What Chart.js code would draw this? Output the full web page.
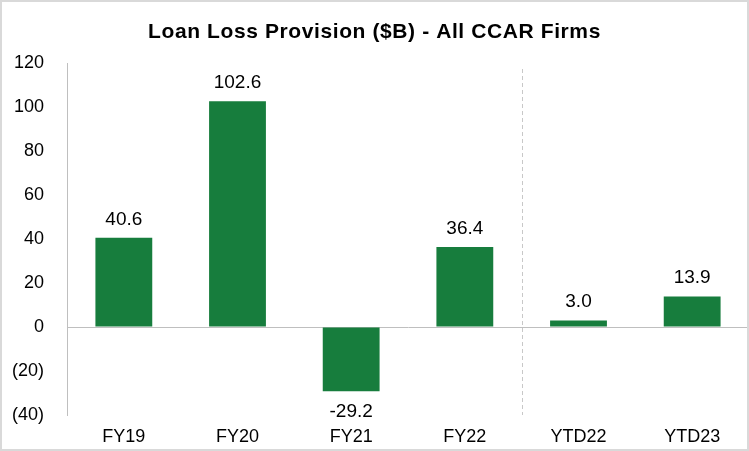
<!DOCTYPE html>
<html>
<head>
<meta charset="utf-8">
<script src="https://cdn.jsdelivr.net/npm/chart.js@4.4.0/dist/chart.umd.min.js"></script>
<style>
  html, body { margin: 0; padding: 0; background: #fff; }
  #wrap { width: 749px; height: 451px; position: relative; }
</style>
</head>
<body>
<div id="wrap"><canvas id="chart"></canvas></div>
<script>
// Data
const categories = ['FY19', 'FY20', 'FY21', 'FY22', 'YTD22', 'YTD23'];
const provisions = [40.6, 102.6, -29.2, 36.4, 3.0, 13.9];
const yTicks = [120, 100, 80, 60, 40, 20, 0, -20, -40];

const chartTitle = 'Loan Loss Provision ($B) - All CCAR Firms';
const barColor = '#177D3D';
const fontFamily = 'Arial, "Liberation Sans", sans-serif';

// Title, frame, divider and value labels
const decorPlugin = {
    id: 'decor',
    afterDraw(chart) {
        const { ctx, chartArea, scales } = chart;
        ctx.save();

        // outer frame
        ctx.strokeStyle = '#D9D9D9';
        ctx.lineWidth = 2;
        ctx.strokeRect(1, 1, chart.width - 2, chart.height - 2);

        // title
        ctx.fillStyle = '#000';
        ctx.font = 'bold 21px ' + fontFamily;
        ctx.letterSpacing = '0.6px';
        ctx.textAlign = 'center';
        ctx.textBaseline = 'alphabetic';
        ctx.fillText(chartTitle, chart.width / 2, 38);
        ctx.letterSpacing = '0px';

        // dashed divider between FY and YTD groups
        const xDiv = (scales.x.getPixelForValue(3) + scales.x.getPixelForValue(4)) / 2;
        ctx.strokeStyle = '#C8C8C8';
        ctx.lineWidth = 1;
        ctx.setLineDash([4, 3]);
        ctx.beginPath();
        ctx.moveTo(Math.round(xDiv) + 0.5, chartArea.top + 6);
        ctx.lineTo(Math.round(xDiv) + 0.5, chartArea.bottom);
        ctx.stroke();
        ctx.setLineDash([]);

        // value labels
        ctx.font = '19px ' + fontFamily;
        ctx.fillStyle = '#000';
        ctx.textBaseline = 'alphabetic';
        const meta = chart.getDatasetMeta(0);
        meta.data.forEach((bar, i) => {
            const v = provisions[i];
            const txt = v.toFixed(1);
            if (v >= 0) {
                ctx.fillText(txt, bar.x, bar.y - 13);
            } else {
                ctx.fillText(txt, bar.x, bar.y + 26);
            }
        });
        ctx.restore();
    }
};

new Chart(document.getElementById('chart'), {
    type: 'bar',
    data: {
        labels: categories,
        datasets: [{
            data: provisions,
            backgroundColor: barColor,
            borderWidth: 0,
            categoryPercentage: 1.0,
            barPercentage: 0.5
        }]
    },
    options: {
        responsive: true,
        maintainAspectRatio: false,
        animation: false,
        layout: { padding: { top: 63, right: 0, bottom: 0, left: 0 } },
        plugins: {
            legend: { display: false },
            tooltip: { enabled: false }
        },
        scales: {
            x: {
                grid: { display: false, drawTicks: false },
                border: { display: false },
                afterFit(scale) { scale.height = 36; },
                ticks: {
                    color: '#000',
                    padding: 11,
                    font: { family: fontFamily, size: 18 }
                }
            },
            y: {
                min: -40,
                max: 120,
                afterBuildTicks(scale) {
                    scale.ticks = yTicks.map(v => ({ value: v }));
                },
                afterFit(scale) { scale.width = 67; },
                border: { display: true, color: '#BFBFBF', width: 1 },
                grid: {
                    drawTicks: false,
                    color: ctx => (ctx.tick && ctx.tick.value === 0 ? '#BFBFBF' : 'rgba(0,0,0,0)'),
                    lineWidth: 1
                },
                ticks: {
                    color: '#000',
                    padding: 23,
                    font: { family: fontFamily, size: 18 },
                    callback: v => (v < 0 ? '(' + Math.abs(v) + ')' : String(v))
                }
            }
        }
    },
    plugins: [decorPlugin]
});
</script>
</body>
</html>
